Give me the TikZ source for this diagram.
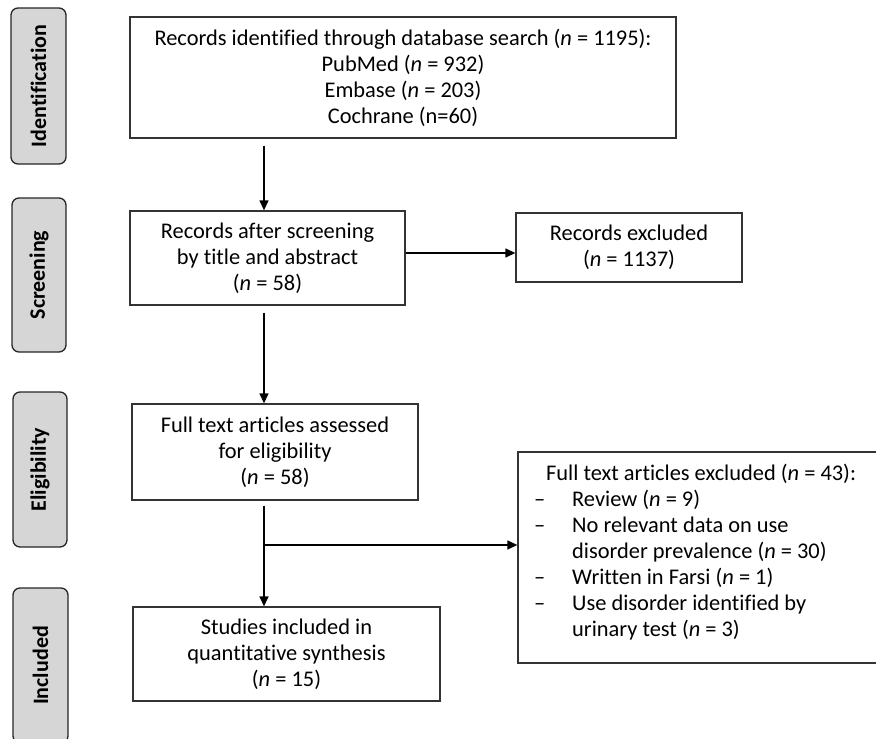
\documentclass[tikz,border=0pt]{standalone}
\usepackage{fontspec}
\setmainfont{Carlito}[RawFeature={-liga}]
\usetikzlibrary{arrows.meta,calc}
\begin{document}
\begin{tikzpicture}[x=1pt,y=-1pt,
  box/.style={draw=black!80, line width=1.3pt, fill=white, inner sep=0pt, align=center, font=\fontsize{22.4}{26}\selectfont},
  lab/.style={draw=black!85, line width=1.3pt, fill=black!16, rounded corners=7pt, rotate=90, inner sep=0pt, font=\bfseries\fontsize{22}{24}\selectfont},
  txt/.style={inner sep=0pt, align=left, font=\fontsize{22.4}{26}\selectfont},
  arr/.style={line width=1.3pt, -{Triangle[length=10pt,width=9pt]}}]
\useasboundingbox (0,0) rectangle (876,739);
\clip (0,0) rectangle (876,739);
% stage labels
\node[lab, minimum width=156pt, minimum height=55pt] (lid) at (38.5,86) {Identification};
\node[lab, minimum width=154pt, minimum height=54pt] (lsc) at (39,275) {Screening};
\node[lab, minimum width=155pt, minimum height=54pt] (lel) at (40,469.5) {Eligibility};
\node[lab, minimum width=155pt, minimum height=55pt] (lin) at (40.5,665.5) {Included};
% boxes
\node[box, minimum width=546pt, minimum height=121pt] (box1) at (403,77.5)
  {Records identified through database search (\textit{n} = 1195):\\PubMed (\textit{n} = 932)\\Embase (\textit{n} = 203)\\Cochrane (n=60)};
\node[box, minimum width=275pt, minimum height=94pt] (box2) at (267.5,258)
  {Records after screening\\by title and abstract\\(\textit{n} = 58)};
\node[box, minimum width=286pt, minimum height=96pt] (box3) at (275,452)
  {Full text articles assessed\\for eligibility\\(\textit{n} = 58)};
\node[box, minimum width=307pt, minimum height=94pt] (box4) at (286.5,654)
  {Studies included in\\quantitative synthesis\\(\textit{n} = 15)};
\node[box, minimum width=226pt, minimum height=69pt] (exc1) at (629,247.5)
  {Records excluded\\(\textit{n} = 1137)};
\node[box, minimum width=382pt, minimum height=211pt] (exc2) at (709,557.5) {};
\node[txt, anchor=north west] (exc2t) at (534,464)
  {\hspace*{12pt}Full text articles excluded (\textit{n} = 43):\\
   \makebox[38pt][l]{–}Review (\textit{n} = 9)\\
   \makebox[38pt][l]{–}No relevant data on use\\
   \hspace*{38pt}disorder prevalence (\textit{n} = 30)\\
   \makebox[38pt][l]{–}Written in Farsi (\textit{n} = 1)\\
   \makebox[38pt][l]{–}Use disorder identified by\\
   \hspace*{38pt}urinary test (\textit{n} = 3)};
% connectors
\coordinate (sp) at (264,0);
\coordinate (s1) at (405,253);
\coordinate (br) at (264,545);
\draw[arr] ([yshift=-7pt]box1.south -| sp) -- (box2.north -| sp);
\draw[arr] ([yshift=-7pt]box2.south -| sp) -- (box3.north -| sp);
\draw[arr] ([yshift=-5pt]box3.south -| sp) -- (box4.north -| sp);
\draw[arr] (br) -- (br -| exc2.west);
\draw[arr] (s1 -| box2.east) -- (s1 -| exc1.west);
\end{tikzpicture}
\end{document}
